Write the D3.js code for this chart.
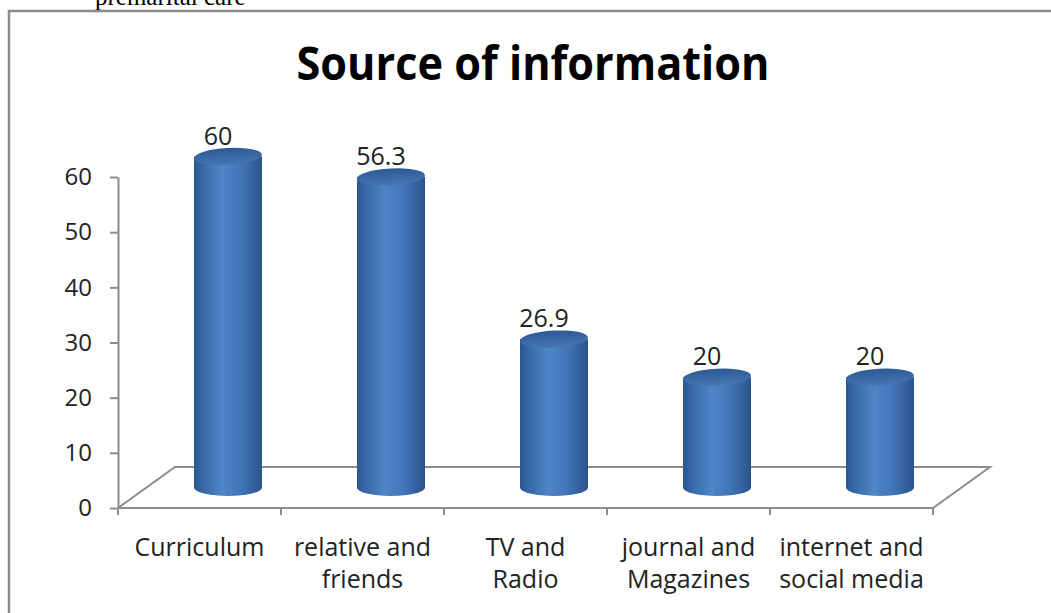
<!DOCTYPE html>
<html>
<head>
<meta charset="utf-8">
<script src="https://cdn.jsdelivr.net/npm/d3@7"></script>
<style>
  html, body { margin: 0; padding: 0; background: #ffffff; }
  svg { display: block; }
</style>
</head>
<body>
<svg id="chart" width="1051" height="613"></svg>
<script>
// ---- data ----
const categories = ["Curriculum", "relative and friends", "TV and Radio", "journal and Magazines", "internet and social media"];
const categoryLines = [["Curriculum"], ["relative and", "friends"], ["TV and", "Radio"], ["journal and", "Magazines"], ["internet and", "social media"]];
const values = [60, 56.3, 26.9, 20, 20];
const valueLabels = ["60", "56.3", "26.9", "20", "20"];
const yTicks = [0, 10, 20, 30, 40, 50, 60];
const titleText = "Source of information";
const captionText = "premarital care";

// ---- layout ----
const svg = d3.select("#chart");
const font = "'Open Sans', 'DejaVu Sans', sans-serif";
const plotLeft = 118, plotRight = 933, plotBottom = 508, plotTop = 177;
const depthX = 57, depthY = -41;

const x = d3.scaleBand().domain(categories).range([plotLeft, plotRight]).padding(0);
const y = d3.scaleLinear().domain([0, 60]).range([plotBottom, plotTop]);

// gradients
const defs = svg.append("defs");
const bodyGrad = defs.append("linearGradient").attr("id", "bodyGrad")
  .attr("x1", "0%").attr("x2", "100%").attr("y1", "0%").attr("y2", "0%");
[["0%", "#2b5690"], ["12%", "#3767a7"], ["42%", "#4e86c7"], ["70%", "#4174b6"], ["100%", "#2a538b"]]
  .forEach(([o, c]) => bodyGrad.append("stop").attr("offset", o).attr("stop-color", c));
const topGrad = defs.append("linearGradient").attr("id", "topGrad")
  .attr("x1", "0%").attr("x2", "0%").attr("y1", "0%").attr("y2", "100%");
[["0%", "#2d5a96"], ["100%", "#4676b5"]]
  .forEach(([o, c]) => topGrad.append("stop").attr("offset", o).attr("stop-color", c));

// caption cut off at top (as in the reference)
svg.append("text").attr("x", 95).attr("y", 5)
  .attr("font-family", "'Liberation Serif', 'Times New Roman', serif")
  .attr("font-size", 25).attr("fill", "#000")
  .text(captionText);

// frame
svg.append("path").attr("d", "M9,613 L9,11 L1051,11")
  .attr("fill", "none").attr("stroke", "#8c8c8c").attr("stroke-width", 2.5);

// title
svg.append("text").attr("x", 533).attr("y", 80)
  .attr("text-anchor", "middle")
  .attr("font-family", font).attr("font-weight", "bold").attr("font-size", 47)
  .attr("textLength", 473).attr("lengthAdjust", "spacingAndGlyphs")
  .attr("fill", "#000").text(titleText);

// floor
const floorPts = [[plotLeft, plotBottom], [plotRight, plotBottom], [plotRight + depthX, plotBottom + depthY], [plotLeft + depthX, plotBottom + depthY], [plotLeft, plotBottom]];
svg.append("path").attr("d", d3.line()(floorPts))
  .attr("fill", "none").attr("stroke", "#8c8c8c").attr("stroke-width", 2);

// y axis
const yAxis = svg.append("g").attr("transform", `translate(${plotLeft},0)`)
  .call(d3.axisLeft(y).tickValues(yTicks).tickSize(8).tickSizeOuter(0).tickPadding(18));
yAxis.select(".domain").attr("stroke", "#8c8c8c").attr("stroke-width", 2);
yAxis.selectAll(".tick line").attr("stroke", "#8c8c8c").attr("stroke-width", 2);
yAxis.selectAll(".tick text").attr("font-family", font).attr("font-size", 24).attr("fill", "#222");

// x axis ticks at category boundaries
const boundaries = categories.map(c => x(c)).concat([plotRight]);
svg.append("g").selectAll("line").data(boundaries).join("line")
  .attr("x1", d => d).attr("x2", d => d).attr("y1", plotBottom).attr("y2", plotBottom + 7)
  .attr("stroke", "#8c8c8c").attr("stroke-width", 2);

// category labels
const catG = svg.append("g");
categories.forEach((c, i) => {
  const cxl = x(c) + x.bandwidth() / 2;
  const t = catG.append("text").attr("x", cxl).attr("y", 556)
    .attr("text-anchor", "middle").attr("font-family", font).attr("font-size", 25).attr("fill", "#222");
  categoryLines[i].forEach((ln, j) => {
    t.append("tspan").attr("x", cxl).attr("dy", j === 0 ? 0 : 32).text(ln);
  });
});

// cylinders
const rx = 34, ry = 8.5, tilt = -3;
const bars = svg.append("g").selectAll("g").data(values).join("g");
bars.each(function (v, i) {
  const g = d3.select(this);
  const cx = x(categories[i]) + x.bandwidth() / 2 + depthX / 2;
  const base = y(0) + depthY / 2;
  const topY = y(v) + depthY / 2;
  g.append("path")
    .attr("d", `M${cx - rx},${topY} L${cx - rx},${base} A${rx},${ry} 0 0 0 ${cx + rx},${base} L${cx + rx},${topY} Z`)
    .attr("fill", "url(#bodyGrad)");
  g.append("ellipse").attr("cx", cx).attr("cy", topY).attr("rx", rx).attr("ry", ry)
    .attr("transform", `rotate(${tilt},${cx},${topY})`)
    .attr("fill", "url(#topGrad)");
  g.append("text").attr("x", cx - 10).attr("y", topY - 12)
    .attr("text-anchor", "middle").attr("font-family", font).attr("font-size", 25).attr("fill", "#222")
    .text(valueLabels[i]);
});
</script>
</body>
</html>
